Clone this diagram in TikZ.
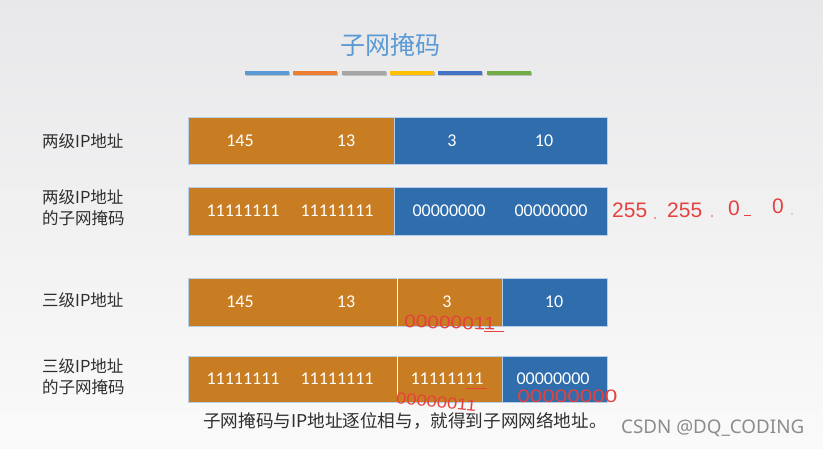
\documentclass[tikz,border=0pt]{standalone}
\usepackage{fontspec}
\setmainfont{Carlito}
\newfontfamily\cjk{Noto Sans CJK SC}
\newfontfamily\numfont{Carlito}
\newfontfamily\handfont{Liberation Sans}
\newfontfamily\wmfont{Noto Sans}
\definecolor{bgtop}{HTML}{E8E8EA}
\definecolor{bgbot}{HTML}{FAFAFA}
\definecolor{ttl}{HTML}{5B9BD5}
\definecolor{segor}{HTML}{C87D22}
\definecolor{segbl}{HTML}{2F6DAD}
\definecolor{segedge}{HTML}{B4CFEA}
\definecolor{lbl}{HTML}{2E2E2E}
\definecolor{hand}{HTML}{E5413F}
\definecolor{wm}{HTML}{8C8C8C}
\definecolor{barA}{HTML}{5B9BD5}
\definecolor{barB}{HTML}{ED7D31}
\definecolor{barC}{HTML}{A5A5A5}
\definecolor{barD}{HTML}{FFC000}
\definecolor{barE}{HTML}{4472C4}
\definecolor{barF}{HTML}{70AD47}
\begin{document}
\begin{tikzpicture}[x=1pt,y=-1pt,
  title/.style={font=\cjk\fontsize{25}{28}\selectfont, text=ttl, inner sep=0pt},
  seg/.style={draw=segedge, line width=0.7pt},
  val/.style={font=\numfont\fontsize{18}{22}\selectfont, text=white, inner sep=0pt},
  rowlabel/.style={font=\cjk\fontsize{16.5}{21}\selectfont, text=lbl, anchor=west, align=left, inner sep=0pt},
  caption/.style={font=\cjk\fontsize{17.6}{20}\selectfont, text=lbl, inner sep=0pt},
  handw/.style={font=\handfont\fontsize{18}{20}\selectfont, text=hand, inner sep=0pt},
  wmark/.style={font=\wmfont\fontsize{18.8}{21}\selectfont, text=wm, inner sep=0pt, anchor=west}
]
\useasboundingbox (0,0) rectangle (823,449);
\shade[top color=bgtop, bottom color=bgbot] (0,0) rectangle (823,449);

% title
\node[title] (title) at (390,45) {子网掩码};

% colour bars
\foreach \x/\c in {245/barA, 293/barB, 342/barC, 390/barD, 438/barE, 487/barF}{
  \fill[black!25] (\x+0.5,71.8) rectangle (\x+44.5,76.2);
  \fill[\c] (\x,71) rectangle (\x+44,75.5);
}

% row labels
\node[rowlabel] (l1) at (42,141) {两级IP地址};
\node[rowlabel] (l2) at (42,207.5) {两级IP地址\\的子网掩码};
\node[rowlabel] (l3) at (42,300) {三级IP地址};
\node[rowlabel] (l4) at (42,376.5) {三级IP地址\\的子网掩码};

% row 1
\filldraw[seg, fill=segor] (188,117) rectangle (394,164);
\filldraw[seg, fill=segbl] (394,117) rectangle (607,164);
\node[val] (r1a) at (240,141) {145};
\node[val] (r1b) at (346,141) {13};
\node[val] (r1c) at (452,141) {3};
\node[val] (r1d) at (544,141) {10};

% row 2
\filldraw[seg, fill=segor] (188,187) rectangle (394,235);
\filldraw[seg, fill=segbl] (394,187) rectangle (607,235);
\node[val] (r2a) at (243,211) {11111111};
\node[val] (r2b) at (337,211) {11111111};
\node[val] (r2c) at (449,211) {00000000};
\node[val] (r2d) at (551,211) {00000000};

% row 3
\filldraw[seg, fill=segor] (188,278) rectangle (502,326);
\filldraw[seg, fill=segbl] (502,278) rectangle (607,326);
\draw[white, line width=0.8pt] (397,278) -- (397,326);
\node[val] (r3a) at (240,302) {145};
\node[val] (r3b) at (346,302) {13};
\node[val] (r3c) at (447,302) {3};
\node[val] (r3d) at (554,302) {10};

% row 4
\filldraw[seg, fill=segor] (188,356) rectangle (502,402);
\filldraw[seg, fill=segbl] (502,356) rectangle (607,402);
\draw[white, line width=0.8pt] (397,356) -- (397,402);
\node[val] (r4a) at (243,379) {11111111};
\node[val] (r4b) at (337,379) {11111111};
\node[val] (r4c) at (447,379) {11111111};
\node[val] (r4d) at (553,379) {00000000};

% handwriting
\node[handw, font=\handfont\fontsize{21}{24}\selectfont, anchor=west] (h1) at (612,210) {255};
\node[handw, font=\handfont\fontsize{21}{24}\selectfont, anchor=west] (h2) at (667,210) {255};
\node[handw, font=\handfont\fontsize{21}{24}\selectfont, anchor=west] (h3) at (728,208) {0};
\node[handw, font=\handfont\fontsize{21}{24}\selectfont, anchor=west] (h4) at (772,206) {0};
\fill[hand] (655,218) circle (0.9);
\fill[hand] (712,216) circle (0.9);
\draw[hand, line width=0.8pt] (744,215) -- (751,215);
\fill[hand] (792,214) circle (0.7);

\node[handw, anchor=west, rotate=-2, xscale=1.16] (h5) at (404,321) {00000011};
\draw[hand, line width=0.8pt] (484,331) -- (504,331);
\node[handw, font=\handfont\fontsize{16}{18}\selectfont, anchor=west, rotate=-6, xscale=1.15] (h6) at (396,398) {00000011};
\draw[hand, line width=0.8pt] (466,388) -- (487,388);
\node[handw, anchor=west, xscale=1.25] (h7) at (517,396) {00000000};

% caption
\node[caption] (cap) at (405,421) {子网掩码与IP地址逐位相与，就得到子网网络地址。};

% watermark
\node[wmark] (wm) at (621,428) {CSDN @DQ\_CODING};
\end{tikzpicture}
\end{document}
